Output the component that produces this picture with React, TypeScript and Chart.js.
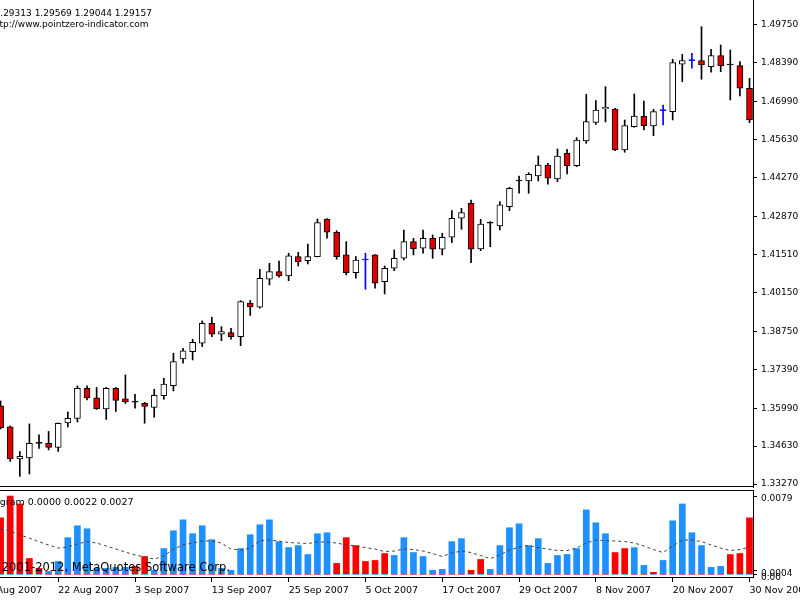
import React, { useEffect, useRef } from "react";
import { Chart, registerables } from "chart.js";

Chart.register(...registerables);

// ---- Price data (daily bars, 14 Aug 2007 .. 30 Nov 2007) ----
const openPrices = [
  1.36073, 1.35319, 1.34170, 1.34206, 1.34726, 1.34726, 1.34583, 1.35462, 1.35624, 1.36701,
  1.36360, 1.35965, 1.36701, 1.36324, 1.36205, 1.36170, 1.36019, 1.36442, 1.36801, 1.37760,
  1.38022, 1.38324, 1.39042, 1.38647, 1.38704, 1.38561, 1.39770, 1.39616, 1.40621, 1.40894,
  1.40740, 1.41433, 1.41289, 1.41433, 1.42786, 1.42308, 1.41494, 1.40858, 1.41314, 1.41494,
  1.40535, 1.41016, 1.41375, 1.41971, 1.41734, 1.42093, 1.41698, 1.42129, 1.42811, 1.43350,
  1.41709, 1.42632, 1.42535, 1.43228, 1.44150, 1.44150, 1.44330, 1.44725, 1.44222, 1.45145,
  1.44699, 1.45586, 1.46250, 1.46735, 1.46735, 1.45263, 1.46100, 1.46484, 1.46125, 1.46674,
  1.46638, 1.48340, 1.48469, 1.48469, 1.48254, 1.48648, 1.48315, 1.48289, 1.47478,
];
const highPrices = [
  1.36252, 1.35355, 1.34439, 1.35426, 1.35032, 1.35157, 1.35462, 1.35857, 1.36791, 1.36791,
  1.36737, 1.36737, 1.36737, 1.37186, 1.36493, 1.36198, 1.36672, 1.37067, 1.37965, 1.38144,
  1.38467, 1.39124, 1.39257, 1.38920, 1.38862, 1.39853, 1.39860, 1.40980, 1.41196, 1.41278,
  1.41555, 1.41590, 1.41888, 1.42786, 1.42804, 1.42366, 1.41971, 1.41433, 1.41555, 1.41511,
  1.41099, 1.41673, 1.42391, 1.42093, 1.42391, 1.42212, 1.42273, 1.43084, 1.43170, 1.43468,
  1.42775, 1.42689, 1.43407, 1.43924, 1.44330, 1.44448, 1.45048, 1.44786, 1.45299, 1.45288,
  1.45705, 1.47263, 1.47040, 1.47536, 1.46760, 1.46340, 1.47273, 1.47022, 1.46724, 1.46879,
  1.48519, 1.48699, 1.48735, 1.49690, 1.48878, 1.49033, 1.48853, 1.48433, 1.47837,
];
const lowPrices = [
  1.35247, 1.34080, 1.33542, 1.33631, 1.34547, 1.34493, 1.34439, 1.35319, 1.35498, 1.36288,
  1.35947, 1.35588, 1.35875, 1.36162, 1.35990, 1.35452, 1.35667, 1.36313, 1.36611, 1.37606,
  1.37724, 1.38202, 1.38561, 1.38417, 1.38467, 1.38237, 1.39322, 1.39580, 1.40417, 1.40693,
  1.40571, 1.41099, 1.41170, 1.41422, 1.42093, 1.41339, 1.40776, 1.40657, 1.40262, 1.40298,
  1.40093, 1.40930, 1.41314, 1.41494, 1.41555, 1.41375, 1.41494, 1.41935, 1.42416, 1.41217,
  1.41648, 1.41792, 1.42391, 1.43084, 1.43709, 1.43709, 1.44150, 1.44032, 1.44125, 1.44401,
  1.44664, 1.45504, 1.46178, 1.46268, 1.45238, 1.45180, 1.46078, 1.45981, 1.45776, 1.46161,
  1.46340, 1.47715, 1.48196, 1.47801, 1.48052, 1.48074, 1.47058, 1.47202, 1.46243,
];
const closePrices = [
  1.35283, 1.34170, 1.34260, 1.34726, 1.34726, 1.34583, 1.35444, 1.35624, 1.36701, 1.36360,
  1.35965, 1.36701, 1.36270, 1.36216, 1.36205, 1.36055, 1.36450, 1.36862, 1.37663, 1.38047,
  1.38359, 1.39042, 1.38647, 1.38740, 1.38561, 1.39817, 1.39627, 1.40657, 1.40894, 1.40740,
  1.41458, 1.41253, 1.41433, 1.42653, 1.42308, 1.41433, 1.40858, 1.41314, 1.41314, 1.40478,
  1.41016, 1.41375, 1.41971, 1.41709, 1.42093, 1.41698, 1.42129, 1.42811, 1.43012, 1.41698,
  1.42606, 1.42632, 1.43289, 1.43888, 1.44150, 1.44391, 1.44725, 1.44247, 1.45048, 1.44699,
  1.45622, 1.46279, 1.46699, 1.46796, 1.45263, 1.46135, 1.46484, 1.46135, 1.46638, 1.46674,
  1.48397, 1.48469, 1.48469, 1.48315, 1.48648, 1.48289, 1.48315, 1.47478, 1.46340,
];
const blueDojiBars = [38, 69, 72];

// ---- Indicator window ----
const histUp = [
  0, 0, 0, 0, 0, 0.0003, 0.0013, 0.0037, 0.0049, 0.0046,
  0.0006, 0.0006, 0.0007, 0.0007, 0, 0, 0.0004, 0.0026, 0.0044, 0.0055,
  0.0041, 0.0049, 0.0035, 0.0006, 0.0004, 0.0026, 0.0040, 0.0050, 0.0055, 0.0033,
  0.0027, 0.0029, 0.0020, 0.0041, 0.0042, 0, 0, 0, 0, 0,
  0, 0.0019, 0.0037, 0.0022, 0.0018, 0.0004, 0.0005, 0.0033, 0.0036, 0,
  0, 0.0005, 0.0029, 0.0047, 0.0051, 0.0029, 0.0036, 0.0011, 0.0019, 0.0020,
  0.0026, 0.0065, 0.0052, 0.0041, 0, 0, 0.0027, 0.0009, 0, 0.0014,
  0.0054, 0.0071, 0.0042, 0.0029, 0.0007, 0.0008, 0, 0, 0,
];
const histDown = [
  0.0057, 0.0079, 0.0071, 0.0016, 0.0006, 0, 0, 0, 0, 0,
  0, 0, 0, 0, 0.0008, 0.0018, 0, 0, 0, 0,
  0, 0, 0, 0, 0, 0, 0, 0, 0, 0,
  0, 0, 0, 0, 0, 0.0011, 0.0037, 0.0029, 0.0013, 0.0014,
  0.0021, 0, 0, 0, 0, 0, 0, 0, 0, 0.0004,
  0.0015, 0, 0, 0, 0, 0, 0, 0, 0, 0,
  0, 0, 0, 0, 0.0022, 0.0026, 0, 0, 0.0002, 0,
  0, 0, 0, 0, 0, 0, 0.0020, 0.0021, 0.0057,
];
const histSignal = [
  0.00467, 0.00437, 0.00397, 0.00366, 0.00329, 0.00296, 0.00265, 0.00275, 0.00306, 0.00330,
  0.00316, 0.00286, 0.00255, 0.00225, 0.00195, 0.00175, 0.00154, 0.00185, 0.00255, 0.00296,
  0.00316, 0.00336, 0.00336, 0.00316, 0.00255, 0.00245, 0.00265, 0.00340, 0.00346, 0.00336,
  0.00321, 0.00316, 0.00311, 0.00326, 0.00326, 0.00316, 0.00296, 0.00286, 0.00270, 0.00255,
  0.00230, 0.00235, 0.00255, 0.00250, 0.00235, 0.00210, 0.00180, 0.00215, 0.00235, 0.00220,
  0.00190, 0.00159, 0.00195, 0.00245, 0.00275, 0.00291, 0.00270, 0.00255, 0.00240, 0.00240,
  0.00265, 0.00316, 0.00346, 0.00341, 0.00336, 0.00331, 0.00316, 0.00286, 0.00250, 0.00220,
  0.00286, 0.00346, 0.00346, 0.00331, 0.00296, 0.00265, 0.00240, 0.00250, 0.00275,
];

// ---- Axis ticks ----
const priceTicks = [
  1.3327, 1.3463, 1.3599, 1.3739, 1.3875, 1.4015, 1.4151, 1.4287, 1.4427, 1.4563, 1.4699, 1.4839, 1.4975,
];
const subTicks = [0, 0.0004, 0.0079];
const dateTickBars = [-2, 6, 14, 22, 30, 38, 46, 54, 62, 70, 78];
const dateTickLabels = [
  "10 Aug 2007", "22 Aug 2007", "3 Sep 2007", "13 Sep 2007", "25 Sep 2007", "5 Oct 2007",
  "17 Oct 2007", "29 Oct 2007", "8 Nov 2007", "20 Nov 2007", "30 Nov 2007",
];

const headerText = "1.29313 1.29569 1.29044 1.29157";
const siteText = "http://www.pointzero-indicator.com";
const indicatorText = "Histogram 0.0000 0.0022 0.0027";
const copyrightText = "Copyright \u00A9 2001-2012, MetaQuotes Software Corp.";

const X_MIN = -3.5;
const X_MAX = 78.365;
const PRICE_MIN = 1.331623;
const PRICE_MAX = 1.506476;
const SUB_MIN = -0.00027;
const SUB_MAX = 0.00851;

const FONT = "DejaVu Sans";

const framePlugin = {
  id: "frame",
  afterDatasetsDraw(chart: any, _args: any, opts: any) {
    const { ctx, chartArea } = chart;
    ctx.save();
    ctx.strokeStyle = "#000";
    ctx.lineWidth = 1;
    ctx.beginPath();
    if (opts.top) {
      const y = Math.round(chartArea.top) + 0.5;
      ctx.moveTo(chartArea.left, y);
      ctx.lineTo(chartArea.right, y);
    }
    if (opts.bottom) {
      const y = Math.round(chartArea.bottom) - 0.5;
      ctx.moveTo(chartArea.left, y);
      ctx.lineTo(chartArea.right, y);
    }
    ctx.stroke();
    ctx.restore();
  },
};

const rightAxisFit = (s: any) => {
  s.width = 47;
  s.paddingTop = 0;
  s.paddingBottom = 0;
};

export default function App() {
  const mainRef = useRef<HTMLCanvasElement>(null);
  const subRef = useRef<HTMLCanvasElement>(null);

  useEffect(() => {
    const idx = openPrices.map((_, i) => i);
    const wickColor = idx.map((i) => (blueDojiBars.includes(i) ? "#0000FF" : "#000000"));
    const bodyFill = idx.map((i) =>
      closePrices[i] < openPrices[i] ? "#E00000" : closePrices[i] > openPrices[i] ? "#FFFFFF" : wickColor[i]
    );

    const main = new Chart(mainRef.current as HTMLCanvasElement, {
      type: "bar",
      data: {
        datasets: [
          {
            label: "wick",
            data: idx.map((i) => ({ x: i, y: [lowPrices[i], highPrices[i]] })) as any,
            backgroundColor: wickColor,
            barThickness: 1,
            grouped: false,
            order: 2,
          },
          {
            label: "body",
            data: idx.map((i) => ({ x: i, y: [openPrices[i], closePrices[i]] })) as any,
            backgroundColor: bodyFill,
            borderColor: wickColor,
            borderWidth: 1,
            borderSkipped: false,
            barThickness: 6,
            minBarLength: 1,
            grouped: false,
            order: 1,
          },
        ],
      },
      options: {
        animation: false,
        responsive: false,
        maintainAspectRatio: false,
        events: [],
        layout: { padding: { top: 0, bottom: 5, left: 0, right: 0 } },
        plugins: {
          legend: { display: false },
          tooltip: { enabled: false },
          frame: { bottom: true },
        } as any,
        scales: {
          x: { type: "linear", min: X_MIN, max: X_MAX, offset: false, display: false },
          y: {
            type: "linear",
            position: "right",
            min: PRICE_MIN,
            max: PRICE_MAX,
            afterBuildTicks: (s: any) => {
              s.ticks = priceTicks.map((v) => ({ value: v }));
            },
            afterFit: rightAxisFit,
            ticks: {
              autoSkip: false,
              color: "#000",
              padding: 4,
              font: { family: FONT, size: 9 },
              callback: (v: any) => Number(v).toFixed(5),
            },
            grid: { drawOnChartArea: false, drawTicks: true, tickLength: 4, color: "#000", tickColor: "#000" },
            border: { display: true, color: "#000", width: 1 },
          } as any,
        },
      },
      plugins: [framePlugin],
    });

    const sub = new Chart(subRef.current as HTMLCanvasElement, {
      type: "bar",
      data: {
        datasets: [
          {
            type: "line",
            label: "signal",
            data: idx.map((i) => ({ x: i, y: histSignal[i] })) as any,
            borderColor: "#404040",
            borderWidth: 1,
            borderDash: [3, 3],
            pointRadius: 0,
            tension: 0,
            order: 0,
          } as any,
          {
            type: "bar",
            label: "up",
            data: idx.map((i) => ({ x: i, y: histUp[i] })) as any,
            backgroundColor: "#1E90FF",
            barThickness: 6,
            grouped: false,
            order: 1,
          },
          {
            type: "bar",
            label: "down",
            data: idx.map((i) => ({ x: i, y: histDown[i] })) as any,
            backgroundColor: "#FF0000",
            barThickness: 6,
            grouped: false,
            order: 1,
          },
        ],
      },
      options: {
        animation: false,
        responsive: false,
        maintainAspectRatio: false,
        events: [],
        layout: { padding: { top: 12, bottom: 0, left: 0, right: 0 } },
        plugins: {
          legend: { display: false },
          tooltip: { enabled: false },
          frame: { top: true },
        } as any,
        scales: {
          x: {
            type: "linear",
            min: X_MIN,
            max: X_MAX,
            offset: false,
            afterBuildTicks: (s: any) => {
              s.ticks = dateTickBars.map((v) => ({ value: v }));
            },
            afterFit: (s: any) => {
              s.height = 23;
              s.paddingLeft = 0;
              s.paddingRight = 0;
            },
            ticks: {
              autoSkip: false,
              align: "start",
              maxRotation: 0,
              minRotation: 0,
              color: "#000",
              padding: 3,
              font: { family: FONT, size: 9.5 },
              callback: (_v: any, i: number) => dateTickLabels[i],
            },
            grid: { offset: false, drawOnChartArea: false, drawTicks: true, tickLength: 5, color: "#000", tickColor: "#000" },
            border: { display: true, color: "#000", width: 1 },
          } as any,
          y: {
            type: "linear",
            position: "right",
            min: SUB_MIN,
            max: SUB_MAX,
            afterBuildTicks: (s: any) => {
              s.ticks = subTicks.map((v) => ({ value: v }));
            },
            afterFit: rightAxisFit,
            ticks: {
              autoSkip: false,
              color: "#000",
              padding: 4,
              labelOffset: 3,
              font: { family: FONT, size: 9 },
              callback: (v: any) => (Number(v) === 0 ? "0.00" : Number(v).toFixed(4)),
            },
            grid: { drawOnChartArea: false, drawTicks: true, tickLength: 4, color: "#000", tickColor: "#000" },
            border: { display: true, color: "#000", width: 1 },
          } as any,
        },
      },
      plugins: [framePlugin],
    });

    return () => {
      main.destroy();
      sub.destroy();
    };
  }, []);

  const txt = (right: number, top: number, size: number): React.CSSProperties => ({
    position: "absolute",
    right: 800 - right,
    top,
    fontFamily: FONT,
    fontSize: size,
    lineHeight: `${Math.round(size + 1)}px`,
    whiteSpace: "nowrap",
    color: "#000",
  });

  return (
    <div
      style={{
        position: "fixed",
        left: 0,
        top: 0,
        width: 800,
        height: 600,
        overflow: "hidden",
        background: "#fff",
      }}
    >
      <canvas
        ref={mainRef}
        width={833}
        height={492}
        style={{ position: "absolute", left: -33, top: 0, width: 833, height: 492 }}
      />
      <canvas
        ref={subRef}
        width={833}
        height={122}
        style={{ position: "absolute", left: -33, top: 478, width: 833, height: 122 }}
      />
      <div style={txt(152, 7.5, 9)}>{headerText}</div>
      <div style={txt(148.5, 18.5, 9)}>{siteText}</div>
      <div style={txt(133.5, 496, 9.5)}>{indicatorText}</div>
      <div style={txt(230, 561, 11.5)}>{copyrightText}</div>
    </div>
  );
}
